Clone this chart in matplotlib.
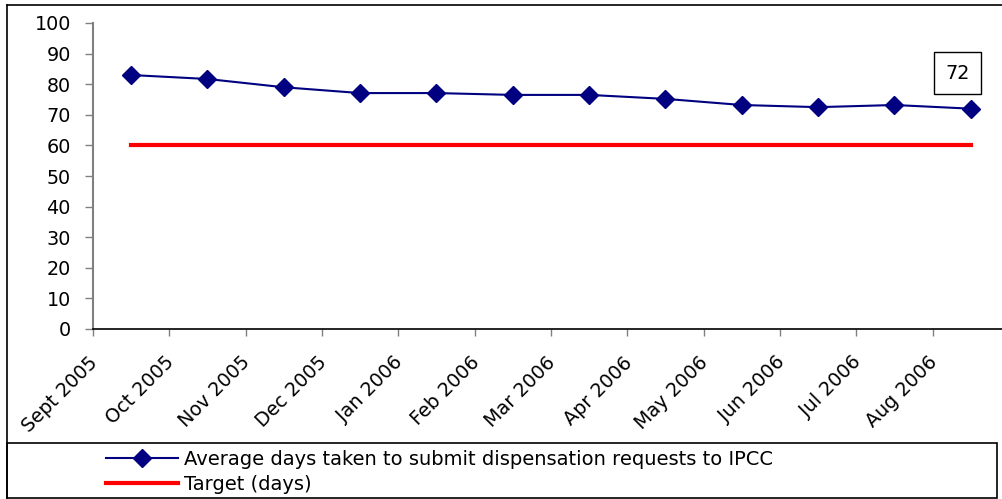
import numpy as np
import matplotlib
matplotlib.use("Agg")
import matplotlib.pyplot as plt
import matplotlib.transforms as mtransforms
from matplotlib.patches import Rectangle
from matplotlib.lines import Line2D

# donnees
mois = ["Sept 2005", "Oct 2005", "Nov 2005", "Dec 2005", "Jan 2006", "Feb 2006",
        "Mar 2006", "Apr 2006", "May 2006", "Jun 2006", "Jul 2006", "Aug 2006"]
moyenne_jours = [83, 81.7, 79, 77.1, 77.1, 76.5, 76.5, 75.2, 73.2, 72.5, 73.2, 72]
cible = [60] * len(mois)
label_moyenne = "Average days taken to submit dispensation requests to IPCC"
label_cible = "Target (days)"

W, H = 1003, 499
fig = plt.figure(figsize=(W / 100, H / 100), dpi=100)

# cadre exterieur
def fx(px):
	return px / W

def fy(py):
	return 1 - py / H

fig.add_artist(Line2D([fx(7), fx(7)], [fy(5), fy(499)], color="black", lw=1.2))
fig.add_artist(Line2D([fx(7), 1], [fy(5), fy(5)], color="black", lw=1.2))
fig.add_artist(Rectangle((fx(7), fy(498)), fx(997) - fx(7), fy(443) - fy(498),
		fill=False, edgecolor="black", lw=1.2))

# zone du graphique
ax = fig.add_axes([fx(93), fy(329), fx(1009) - fx(93), fy(23) - fy(329)])
ax.patch.set_alpha(0)

x = np.arange(len(mois)) + 0.5
l1, = ax.plot(x, moyenne_jours, color="#000080", lw=1.5, marker="D",
		markersize=9.5, label=label_moyenne, zorder=3)
l2, = ax.plot(x, cible, color="#ff0000", lw=3, label=label_cible, zorder=2)

ax.set_xlim(0, len(mois))
ax.set_ylim(0, 100)
ax.set_yticks(range(0, 101, 10))
ax.set_xticks(np.arange(len(mois)))
ax.set_xticklabels(mois, rotation=45, ha="right", va="top",
		rotation_mode="anchor", fontsize=13.8)
ax.tick_params(axis="y", labelsize=13.8, length=6, width=1, color="#808080", pad=10)
ax.tick_params(axis="x", length=5, width=1, color="#808080", pad=5)

# decale les etiquettes du mois vers le bas et la gauche
decalage = mtransforms.ScaledTranslation(-5 / 100, -10 / 100, fig.dpi_scale_trans)
for lab in ax.get_xticklabels():
	lab.set_transform(lab.get_transform() + decalage)

for s in ["top", "right"]:
	ax.spines[s].set_visible(False)
ax.spines["left"].set_color("#808080")
ax.spines["left"].set_linewidth(1.5)
ax.spines["bottom"].set_color("black")
ax.spines["bottom"].set_linewidth(1.2)

# etiquette de la derniere valeur
ax.annotate("%d" % moyenne_jours[-1], xy=(x[-1], moyenne_jours[-1]),
		xytext=(-9.5, 25.5), textcoords="offset points", ha="center", va="center",
		fontsize=13.8,
		bbox=dict(boxstyle="square,pad=0.6", fc="white", ec="black", lw=1))

# legende
fig.legend(handles=[l1, l2], loc="upper left", bbox_to_anchor=(fx(98), fy(442)),
		frameon=False, fontsize=14, handlelength=3.7, handletextpad=0.3,
		labelspacing=0.3, borderaxespad=0)

plt.savefig("out.png", dpi=100)
plt.close()
